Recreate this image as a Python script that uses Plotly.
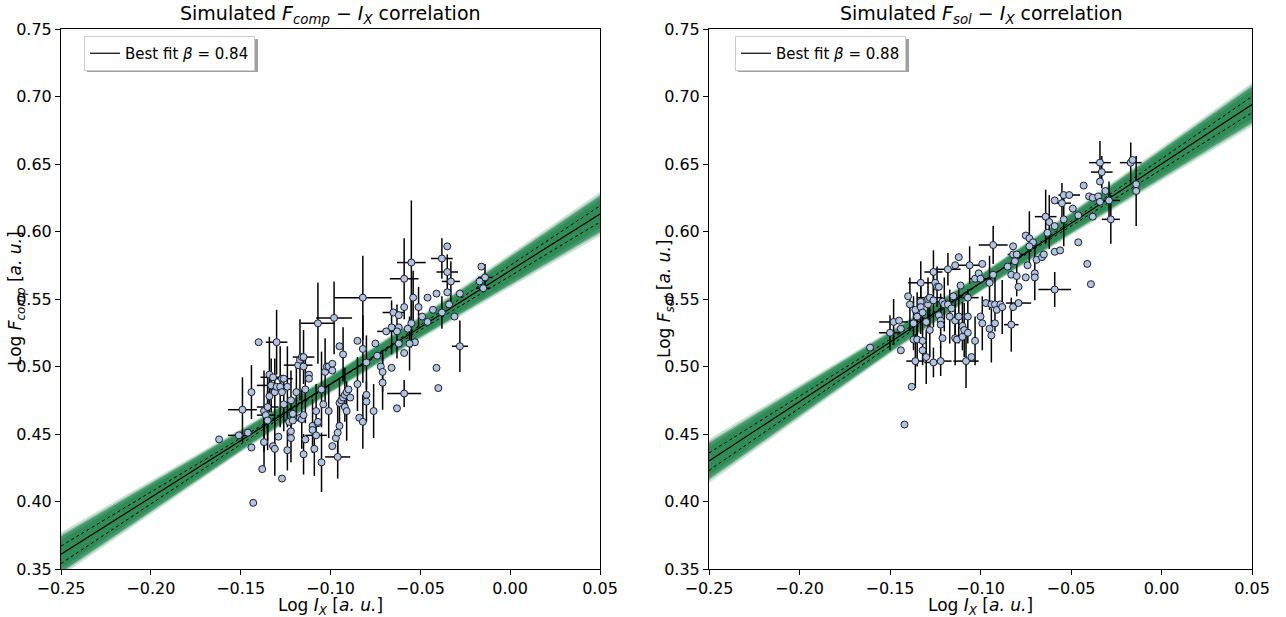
import plotly.graph_objects as go

# ---------------- data: left panel (F_comp vs I_X) ----------------
x_comp = [-0.162, -0.151, -0.149, -0.146, -0.144, -0.144, -0.143, -0.140, -0.138, -0.137,
          -0.137, -0.136, -0.135, -0.135, -0.134, -0.134, -0.133, -0.132, -0.131, -0.132,
          -0.131, -0.130, -0.130, -0.129, -0.128, -0.127, -0.127, -0.126, -0.126, -0.127,
          -0.124, -0.124, -0.123, -0.122, -0.122, -0.122, -0.121, -0.121, -0.119, -0.118,
          -0.117, -0.116, -0.115, -0.115, -0.117, -0.116, -0.115, -0.115, -0.114, -0.114,
          -0.112, -0.112, -0.110, -0.110, -0.108, -0.108, -0.107, -0.107, -0.109, -0.105,
          -0.107, -0.105, -0.104, -0.103, -0.102, -0.101, -0.101, -0.099, -0.099, -0.098,
          -0.099, -0.097, -0.096, -0.096, -0.095, -0.095, -0.093, -0.095, -0.094, -0.093,
          -0.092, -0.091, -0.090, -0.092, -0.091, -0.089, -0.016, -0.014, -0.017, -0.015,
          -0.028, -0.035, -0.038, -0.035, -0.033, -0.035, -0.028, -0.031, -0.034, -0.038,
          -0.041, -0.041, -0.040, -0.046, -0.043, -0.051, -0.049, -0.046, -0.055, -0.059,
          -0.054, -0.059, -0.055, -0.057, -0.053, -0.056, -0.059, -0.062, -0.062, -0.063,
          -0.065, -0.062, -0.066, -0.069, -0.082, -0.085, -0.082, -0.075, -0.074, -0.080,
          -0.072, -0.071, -0.066, -0.071, -0.059, -0.063, -0.076, -0.085, -0.080, -0.080,
          -0.084, -0.082]
y_comp = [0.446, 0.449, 0.468, 0.451, 0.481, 0.440, 0.399, 0.518, 0.424, 0.444,
          0.467, 0.464, 0.460, 0.470, 0.494, 0.478, 0.486, 0.441, 0.439, 0.492,
          0.481, 0.485, 0.518, 0.448, 0.485, 0.481, 0.491, 0.472, 0.491, 0.417,
          0.438, 0.485, 0.459, 0.475, 0.447, 0.452, 0.460, 0.465, 0.481, 0.501,
          0.505, 0.507, 0.507, 0.500, 0.462, 0.461, 0.464, 0.435, 0.446, 0.483,
          0.494, 0.491, 0.456, 0.453, 0.449, 0.467, 0.458, 0.459, 0.439, 0.429,
          0.532, 0.483, 0.472, 0.496, 0.500, 0.467, 0.500, 0.502, 0.497, 0.536,
          0.441, 0.447, 0.451, 0.433, 0.515, 0.456, 0.509, 0.473, 0.475, 0.477,
          0.479, 0.481, 0.483, 0.470, 0.467, 0.477, 0.574, 0.566, 0.563, 0.558,
          0.515, 0.589, 0.580, 0.570, 0.563, 0.555, 0.554, 0.537, 0.546, 0.540,
          0.554, 0.499, 0.484, 0.551, 0.542, 0.544, 0.537, 0.533, 0.577, 0.565,
          0.551, 0.544, 0.532, 0.528, 0.518, 0.517, 0.510, 0.517, 0.529, 0.526,
          0.540, 0.538, 0.529, 0.526, 0.551, 0.519, 0.513, 0.517, 0.508, 0.503,
          0.500, 0.496, 0.499, 0.488, 0.480, 0.469, 0.467, 0.487, 0.479, 0.474,
          0.462, 0.459]
xerr_comp = [0, 0.006, 0.008, 0, 0, 0, 0, 0, 0, 0,
             0, 0.005, 0, 0.006, 0, 0, 0.008, 0, 0, 0.007,
             0, 0, 0.006, 0, 0, 0, 0.006, 0, 0, 0,
             0, 0, 0, 0, 0, 0, 0.005, 0, 0, 0.008,
             0, 0, 0.006, 0, 0, 0, 0, 0, 0, 0,
             0, 0, 0, 0, 0.006, 0, 0, 0, 0, 0,
             0.0095, 0, 0, 0, 0, 0, 0, 0, 0, 0.010,
             0, 0, 0, 0.007, 0, 0, 0, 0, 0, 0,
             0, 0, 0, 0, 0, 0, 0, 0.004, 0, 0.004,
             0.0045, 0, 0.006, 0.006, 0.005, 0, 0, 0, 0, 0,
             0, 0, 0, 0, 0, 0, 0, 0, 0.008, 0.008,
             0, 0, 0, 0, 0, 0, 0, 0, 0, 0,
             0.006, 0, 0, 0.005, 0.016, 0, 0, 0, 0, 0,
             0, 0, 0, 0, 0.0095, 0, 0, 0, 0, 0,
             0, 0]
yerr_comp = [0, 0, 0.024, 0, 0.02, 0, 0, 0, 0, 0.018,
             0.03, 0, 0.022, 0.025, 0.028, 0, 0.02, 0, 0.02, 0,
             0.025, 0, 0.024, 0, 0.03, 0, 0, 0.02, 0, 0,
             0.015, 0.03, 0, 0.022, 0.018, 0, 0, 0, 0.02, 0,
             0.03, 0, 0.02, 0, 0, 0.022, 0, 0.015, 0, 0.025,
             0, 0, 0.02, 0, 0, 0.02, 0, 0, 0.02, 0.022,
             0.03, 0.028, 0, 0.025, 0, 0.02, 0, 0, 0, 0.027,
             0, 0, 0.02, 0.016, 0, 0, 0.02, 0.018, 0, 0,
             0.02, 0, 0, 0, 0.022, 0, 0, 0.01, 0, 0,
             0.019, 0, 0.015, 0.013, 0.015, 0, 0, 0, 0, 0.012,
             0, 0, 0, 0, 0, 0.015, 0, 0, 0.046, 0.03,
             0.02, 0, 0.018, 0, 0, 0.02, 0, 0, 0, 0.02,
             0, 0, 0.02, 0, 0.031, 0, 0.025, 0, 0, 0.02,
             0, 0.015, 0, 0.02, 0.01, 0, 0.02, 0.02, 0, 0.015,
             0, 0.02]

# ---------------- data: right panel (F_sol vs I_X) ----------------
x_sol = [-0.161, -0.150, -0.148, -0.145, -0.144, -0.144, -0.142, -0.140, -0.139, -0.138,
         -0.137, -0.136, -0.135, -0.137, -0.135, -0.136, -0.133, -0.133, -0.133, -0.132,
         -0.132, -0.132, -0.130, -0.130, -0.129, -0.129, -0.128, -0.128, -0.126, -0.122,
         -0.126, -0.125, -0.124, -0.123, -0.126, -0.123, -0.122, -0.122, -0.121, -0.120,
         -0.118, -0.117, -0.116, -0.114, -0.121, -0.118, -0.115, -0.114, -0.113, -0.114,
         -0.112, -0.112, -0.111, -0.110, -0.110, -0.109, -0.107, -0.107, -0.107, -0.108,
         -0.105, -0.106, -0.103, -0.101, -0.100, -0.099, -0.103, -0.100, -0.099, -0.097,
         -0.095, -0.094, -0.093, -0.092, -0.091, -0.095, -0.094, -0.092, -0.093, -0.089,
         -0.088, -0.085, -0.083, -0.082, -0.083, -0.082, -0.079, -0.082, -0.080, -0.081,
         -0.080, -0.079, -0.075, -0.075, -0.073, -0.071, -0.073, -0.074, -0.070, -0.070,
         -0.069, -0.066, -0.065, -0.064, -0.063, -0.062, -0.059, -0.059, -0.056, -0.059,
         -0.059, -0.055, -0.054, -0.051, -0.054, -0.049, -0.046, -0.046, -0.043, -0.041,
         -0.039, -0.040, -0.038, -0.035, -0.034, -0.031, -0.038, -0.034, -0.033, -0.034,
         -0.029, -0.028, -0.017, -0.016, -0.014, -0.014]
y_sol = [0.514, 0.525, 0.533, 0.534, 0.528, 0.512, 0.457, 0.552, 0.546, 0.485,
         0.532, 0.542, 0.537, 0.520, 0.520, 0.504, 0.562, 0.548, 0.544, 0.540,
         0.519, 0.512, 0.507, 0.533, 0.546, 0.550, 0.551, 0.527, 0.503, 0.504,
         0.570, 0.562, 0.559, 0.559, 0.549, 0.538, 0.534, 0.531, 0.548, 0.546,
         0.546, 0.537, 0.543, 0.534, 0.521, 0.572, 0.552, 0.521, 0.520, 0.575,
         0.581, 0.537, 0.560, 0.530, 0.522, 0.527, 0.525, 0.551, 0.537, 0.504,
         0.507, 0.575, 0.565, 0.569, 0.565, 0.576, 0.519, 0.537, 0.532, 0.547,
         0.562, 0.546, 0.568, 0.546, 0.542, 0.528, 0.523, 0.532, 0.590, 0.546,
         0.544, 0.574, 0.568, 0.589, 0.531, 0.544, 0.547, 0.583, 0.583, 0.578,
         0.567, 0.559, 0.566, 0.597, 0.595, 0.592, 0.589, 0.575, 0.569, 0.566,
         0.579, 0.581, 0.583, 0.611, 0.599, 0.607, 0.604, 0.585, 0.586, 0.557,
         0.623, 0.621, 0.627, 0.627, 0.609, 0.617, 0.592, 0.612, 0.634, 0.576,
         0.561, 0.626, 0.625, 0.626, 0.622, 0.630, 0.611, 0.637, 0.644, 0.651,
         0.623, 0.609, 0.651, 0.653, 0.635, 0.630]
xerr_sol = [0, 0.006, 0.008, 0, 0, 0, 0, 0, 0, 0,
            0, 0, 0, 0, 0, 0.005, 0.007, 0, 0, 0,
            0, 0, 0, 0, 0, 0, 0.007, 0, 0.005, 0.006,
            0.005, 0, 0, 0, 0, 0, 0, 0, 0.006, 0,
            0, 0, 0, 0, 0, 0.007, 0, 0, 0, 0,
            0, 0, 0, 0, 0, 0, 0, 0.006, 0, 0.007,
            0, 0.008, 0, 0, 0.006, 0, 0, 0, 0, 0,
            0, 0, 0, 0, 0, 0, 0, 0, 0.008, 0,
            0, 0, 0, 0, 0.004, 0, 0.007, 0, 0.005, 0,
            0, 0, 0, 0, 0, 0, 0, 0, 0, 0,
            0, 0, 0, 0.006, 0, 0, 0, 0, 0, 0.009,
            0, 0.005, 0, 0.006, 0, 0, 0, 0, 0, 0,
            0, 0, 0, 0, 0, 0, 0, 0, 0.006, 0.006,
            0.006, 0.005, 0.006, 0, 0, 0]
yerr_sol = [0, 0.013, 0.017, 0, 0, 0, 0, 0, 0.02, 0,
            0.02, 0, 0.018, 0, 0.02, 0.02, 0.016, 0, 0.02, 0,
            0.018, 0, 0.02, 0, 0.02, 0, 0, 0.02, 0.011, 0.011,
            0.016, 0, 0.015, 0, 0.02, 0, 0.02, 0, 0, 0.02,
            0, 0.02, 0, 0.015, 0, 0.012, 0, 0.02, 0, 0,
            0, 0.02, 0, 0.018, 0, 0.02, 0, 0, 0.02, 0.02,
            0, 0.014, 0, 0, 0, 0, 0.018, 0, 0.02, 0,
            0.02, 0, 0, 0.02, 0, 0, 0.02, 0, 0.014, 0,
            0.02, 0, 0, 0, 0.02, 0, 0, 0, 0, 0,
            0.015, 0, 0, 0, 0.02, 0, 0, 0, 0.02, 0,
            0, 0, 0, 0.02, 0, 0.02, 0, 0, 0, 0.013,
            0, 0.015, 0, 0, 0.02, 0, 0, 0, 0, 0,
            0, 0, 0, 0, 0, 0, 0, 0, 0.012, 0.016,
            0.014, 0.018, 0.015, 0, 0, 0.026]

# ---------------- fit parameters ----------------
beta_comp, alpha_comp = 0.84, 0.571
beta_sol, alpha_sol = 0.88, 0.650
fit_x = [-0.25, 0.05]
band_x = [-0.25, -0.20, -0.15, -0.10, -0.05, 0.0, 0.05]
band_hw = [0.013, 0.010, 0.007, 0.0055, 0.007, 0.010, 0.013]
dot_off_a = [0.006, -0.006]   # dotted line offsets at x=-0.25 and x=0.05
dot_off_b = [-0.007, 0.006]

GREEN = "46,139,87"
MARK = "#B0C4DE"
FONT = "DejaVu Sans"

fig = go.Figure()


def add_panel(xs, ys, xe, ye, beta, alpha, xa, ya, legend_name, label):
    fit = [beta * v + alpha for v in band_x]
    for scale, op in [(1.25, 0.25), (1.1, 0.45), (1.0, 0.75), (0.8, 0.95)]:
        up = [f + scale * h for f, h in zip(fit, band_hw)]
        lo = [f - scale * h for f, h in zip(fit, band_hw)]
        fig.add_trace(go.Scatter(
            x=band_x + band_x[::-1], y=up + lo[::-1], fill="toself",
            fillcolor=f"rgba({GREEN},{op})", line=dict(width=0),
            mode="lines", hoverinfo="skip", showlegend=False, xaxis=xa, yaxis=ya))
    for offs in (dot_off_a, dot_off_b):
        fig.add_trace(go.Scatter(
            x=fit_x, y=[beta * v + alpha + o for v, o in zip(fit_x, offs)],
            mode="lines", line=dict(color="black", width=1, dash="dot"),
            showlegend=False, hoverinfo="skip", xaxis=xa, yaxis=ya))
    fig.add_trace(go.Scatter(
        x=fit_x, y=[beta * v + alpha for v in fit_x], mode="lines",
        line=dict(color="black", width=1.2), name=label,
        showlegend=True, legend=legend_name, xaxis=xa, yaxis=ya))
    fig.add_trace(go.Scatter(
        x=xs, y=ys, mode="markers",
        marker=dict(size=7, color=MARK, line=dict(color="#1b1b2f", width=1)),
        error_x=dict(type="data", array=xe, visible=True, color="black", thickness=1.5, width=0),
        error_y=dict(type="data", array=ye, visible=True, color="black", thickness=1.5, width=0),
        showlegend=False, xaxis=xa, yaxis=ya))


add_panel(x_comp, y_comp, xerr_comp, yerr_comp, beta_comp, alpha_comp, "x", "y", "legend",
          "Best fit <i>β</i> = 0.84")
add_panel(x_sol, y_sol, xerr_sol, yerr_sol, beta_sol, alpha_sol, "x2", "y2", "legend2",
          "Best fit <i>β</i> = 0.88")

W, H = 1286, 617
L1, R1 = 61, 600
L2, R2 = 709, 1252
T, B = 29, 569

axis_common = dict(showline=True, linecolor="black", linewidth=1, mirror=True,
                   ticks="outside", ticklen=5, tickwidth=1, tickcolor="black",
                   showgrid=False, zeroline=False, tickformat=".2f", automargin=False,
                   tickfont=dict(family=FONT, size=16, color="black"))

xticks = [-0.25, -0.20, -0.15, -0.10, -0.05, 0.00, 0.05]
yticks = [0.35, 0.40, 0.45, 0.50, 0.55, 0.60, 0.65, 0.70, 0.75]

LEG_W, LEG_H = 171, 33
legend_common = dict(xanchor="left", yanchor="top", bgcolor="white",
                     bordercolor="#cccccc", borderwidth=1,
                     font=dict(family=FONT, size=15, color="black"), itemwidth=30)

fig.update_layout(
    width=W, height=H, margin=dict(l=0, r=0, t=0, b=0, autoexpand=False),
    paper_bgcolor="white", plot_bgcolor="white",
    font=dict(family=FONT, color="black"),
    xaxis=dict(domain=[L1 / W, R1 / W], range=[-0.25, 0.05], tickvals=xticks, anchor="y", **axis_common),
    yaxis=dict(domain=[1 - B / H, 1 - T / H], range=[0.35, 0.75], tickvals=yticks, anchor="x", **axis_common),
    xaxis2=dict(domain=[L2 / W, R2 / W], range=[-0.25, 0.05], tickvals=xticks, anchor="y2", **axis_common),
    yaxis2=dict(domain=[1 - B / H, 1 - T / H], range=[0.35, 0.75], tickvals=yticks, anchor="x2", **axis_common),
    legend=dict(x=84 / W, y=1 - 36 / H, **legend_common),
    legend2=dict(x=735 / W, y=1 - 36 / H, **legend_common),
    showlegend=True,
)

# legend shadows
for x0 in (84, 735):
    fig.add_shape(type="rect", xref="paper", yref="paper",
                  x0=(x0 + 3) / W, x1=(x0 + LEG_W + 3) / W,
                  y0=1 - (36 + LEG_H + 3) / H, y1=1 - 39 / H,
                  fillcolor="#a0a0a0", line=dict(width=0), layer="above")

ann = []
ann.append(dict(text="Simulated <i>F</i><sub><i>comp</i></sub> − <i>I</i><sub><i>X</i></sub> correlation",
                x=(L1 + R1) / 2 / W, y=1 - 14 / H, font=dict(size=19)))
ann.append(dict(text="Simulated <i>F</i><sub><i>sol</i></sub> − <i>I</i><sub><i>X</i></sub> correlation",
                x=(L2 + R2) / 2 / W, y=1 - 14 / H, font=dict(size=19)))
for cx in ((L1 + R1) / 2, (L2 + R2) / 2):
    ann.append(dict(text="Log <i>I</i><sub><i>X</i></sub> [<i>a. u.</i>]",
                    x=cx / W, y=1 - 606 / H, font=dict(size=17)))
ann.append(dict(text="Log <i>F</i><sub><i>comp</i></sub> [<i>a. u.</i>]",
                x=17 / W, y=1 - 299 / H, textangle=-90, font=dict(size=17)))
ann.append(dict(text="Log <i>F</i><sub><i>sol</i></sub> [<i>a. u.</i>]",
                x=666 / W, y=1 - 299 / H, textangle=-90, font=dict(size=17)))
for a in ann:
    a.update(xref="paper", yref="paper", showarrow=False, xanchor="center", yanchor="middle")
    a["font"].update(family=FONT, color="black")
fig.update_layout(annotations=ann)

fig.write_html("out.html")
